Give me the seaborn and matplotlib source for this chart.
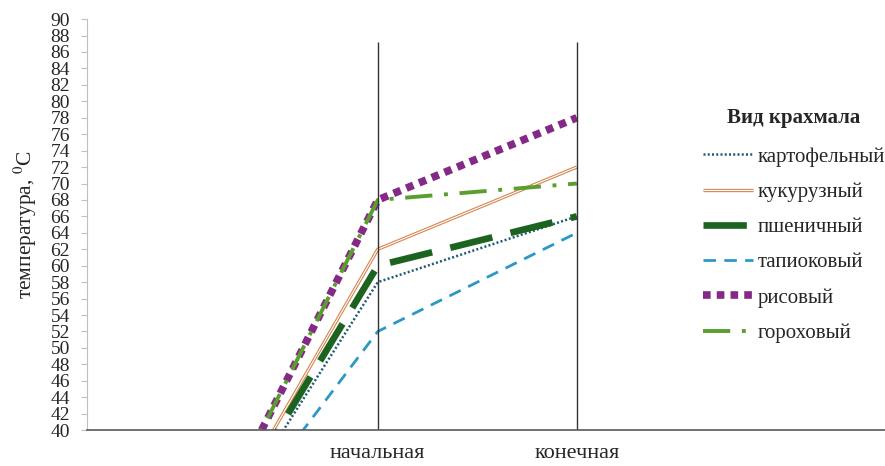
import seaborn as sns
import matplotlib.pyplot as plt
import matplotlib.patheffects as pe
import pandas as pd

stages = ['', 'начальная', 'конечная']
stage_pos = [0, 1, 2]

kartofel = [20, 58, 66]
kukuruza = [20, 62, 72]
pshenica = [20, 60, 66]
tapioka = [20, 52, 64]
ris = [20, 68, 78]
goroh = [20, 68, 70]

names = ['картофельный', 'кукурузный', 'пшеничный', 'тапиоковый', 'рисовый', 'гороховый']
values = [kartofel, kukuruza, pshenica, tapioka, ris, goroh]

styles = {
    'картофельный': dict(color = '#215a73', lw = 1.8, dashes = (0.8, 0.9)),
    'кукурузный': dict(color = '#d4864f', lw = 2.4, dashes = None),
    'пшеничный': dict(color = '#1d6320', lw = 4.8, dashes = (6.5, 2.8)),
    'тапиоковый': dict(color = '#2b98c6', lw = 2.0, dashes = (4.5, 3)),
    'рисовый': dict(color = '#842a86', lw = 5.5, dashes = (1, 0.8)),
    'гороховый': dict(color = '#5a9e2f', lw = 2.8, dashes = (7, 3, 1, 3)),
}

df = pd.DataFrame({
    'этап': stage_pos * len(names),
    'температура': [v for vals in values for v in vals],
    'вид': [n for n in names for _ in stage_pos],
})

sns.set_style('white')
plt.rcParams['font.family'] = ['Liberation Serif', 'DejaVu Serif']
plt.rcParams['mathtext.fontset'] = 'stix'

fig = plt.figure(figsize = (8.85, 4.66), dpi = 100)
ax = fig.add_axes([0.098, 0.077, 0.902, 0.882])

for name in names:
    st = styles[name]
    sub = df[df['вид'] == name]
    sns.lineplot(data = sub, x = 'этап', y = 'температура', ax = ax, sort = False,
                 color = st['color'], linewidth = st['lw'], label = name)
    line = ax.lines[-1]
    line.set_solid_capstyle('butt')
    line.set_dash_capstyle('butt')
    if st['dashes'] is not None:
        line.set_dashes(st['dashes'])
    if name == 'кукурузный':
        # двойная линия
        line.set_path_effects([pe.Stroke(linewidth = st['lw'], foreground = st['color']),
                               pe.Stroke(linewidth = 0.8, foreground = 'white')])

ax.vlines([1, 2], 40, 87.2, color = '#333333', linewidth = 1.0)

ax.set_xlim(-0.462, 3.548)
ax.set_ylim(40, 90)
ax.set_yticks(range(40, 91, 2))
ax.set_xticks(stage_pos)
ax.set_xticklabels(stages)
ax.tick_params(axis = 'y', labelsize = 14, length = 4, color = '#bfbfbf', left = True, pad = 8)
ax.tick_params(axis = 'x', labelsize = 16, length = 0, pad = 10)

ax.set_xlabel('')
ax.set_ylabel('температура, $^{0}$C', fontsize = 15.5, labelpad = 8)

for s in ['top', 'right']:
    ax.spines[s].set_visible(False)
ax.spines['left'].set_color('#bfbfbf')
ax.spines['bottom'].set_color('#595959')
ax.spines['bottom'].set_linewidth(1.2)

leg = ax.legend(title = 'Вид крахмала', loc = 'upper left', bbox_to_anchor = (0.748, 0.83),
                frameon = False, fontsize = 15, title_fontproperties = {'weight': 'bold', 'size': 15},
                handlelength = 2.4, handletextpad = 0.25, labelspacing = 0.75)
leg._legend_box.align = 'center'
leg._legend_box.sep = 14

fig.savefig('out.png', dpi = 100)
